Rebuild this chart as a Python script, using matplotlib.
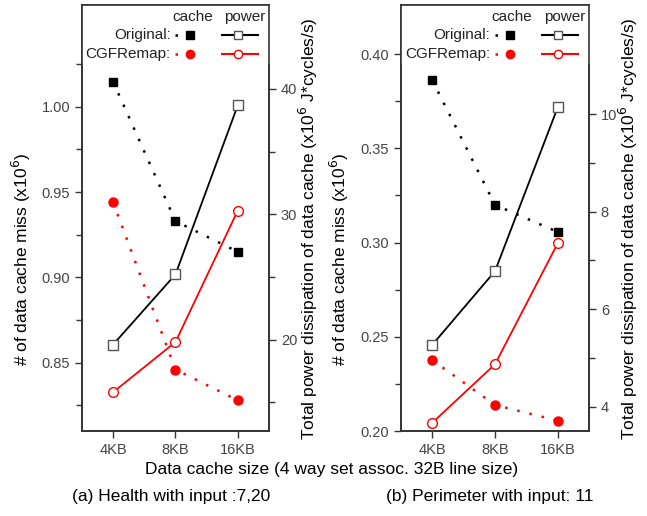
import matplotlib
matplotlib.use("Agg")
import matplotlib.pyplot as plt
from matplotlib.ticker import FixedLocator

plt.rcParams['font.family'] = ['Liberation Sans', 'DejaVu Sans']

sizes = ['4KB', '8KB', '16KB']

# (a) Health
health_orig_cache = [1.0146, 0.933, 0.915]
health_remap_cache = [0.944, 0.846, 0.828]
health_orig_power = [19.6, 25.2, 38.7]
health_remap_power = [15.8, 19.8, 30.3]

# (b) Perimeter
perim_orig_cache = [0.386, 0.320, 0.3056]
perim_remap_cache = [0.2376, 0.2138, 0.2055]
perim_orig_power = [5.27, 6.78, 10.14]
perim_remap_power = [3.67, 4.87, 7.35]

RED = '#ff0000'
SPINE = '#333333'
TICKC = '#444444'
dotted = (0, (1, 4))

cache_label = '# of data cache miss (x10$^6$)'
power_label = 'Total power dissipation of data cache (x10$^6$ J*cycles/s)'


def style_axis(ax):
    for s in ax.spines.values():
        s.set_color(SPINE)
        s.set_linewidth(1.2)
    ax.tick_params(which='both', direction='out', colors=SPINE,
                   labelcolor=TICKC, labelsize=10.5, width=1.0)
    ax.tick_params(which='major', length=5)
    ax.tick_params(which='minor', length=4)


def draw_panel(rect, orig_cache, remap_cache, orig_power, remap_power,
               ylim_c, ylim_p, cmajor, cminor, pmajor, pminor, title, title_x,
               lab_left_x, lab_right_x):
    ax = fig.add_axes(rect)
    ax2 = ax.twinx()
    x = range(len(sizes))

    ax.plot(x, orig_cache, color='black', ls=dotted, lw=1.8, marker='s', ms=6,
            mfc='black', mec='black', zorder=3)
    ax.plot(x, remap_cache, color=RED, ls=dotted, lw=1.8, marker='o', ms=6.5,
            mfc=RED, mec=RED, zorder=3)
    ax2.plot(x, orig_power, color='black', lw=1.3, marker='s', ms=6.5,
             mfc='white', mec='#555555', mew=1.0)
    ax2.plot(x, remap_power, color=RED, lw=1.3, marker='o', ms=7,
             mfc='white', mec=RED, mew=1.0)

    ax.set_xlim(-0.5, 2.5)
    ax.set_xticks(list(x))
    ax.set_xticklabels(sizes)
    ax.set_ylim(*ylim_c)
    ax2.set_ylim(*ylim_p)
    ax.yaxis.set_major_locator(FixedLocator(cmajor))
    ax.yaxis.set_minor_locator(FixedLocator(cminor))
    ax.set_yticklabels(['%.2f' % v for v in cmajor])
    ax2.yaxis.set_major_locator(FixedLocator(pmajor))
    ax2.yaxis.set_minor_locator(FixedLocator(pminor))
    style_axis(ax)
    style_axis(ax2)

    fig.text(lab_left_x, 0.497, cache_label, rotation=90, ha='center', va='center',
             fontsize=12.5, color='black')
    fig.text(lab_right_x, 0.556, power_label, rotation=90, ha='center', va='center',
             fontsize=12.5, color='black')

    # legend box drawn at the top of the frame
    tr = ax.transAxes
    ax.plot([0, 1], [0.864, 0.864], transform=tr, color=SPINE, lw=1.2, clip_on=False)
    ax.fill_between([0, 1], 0.864, 1, transform=tr, color='white', zorder=4)
    ax.text(0.59, 0.972, 'cache', transform=tr, ha='center', va='center', fontsize=11,
            color='#222222', zorder=5)
    ax.text(0.87, 0.972, 'power', transform=tr, ha='center', va='center', fontsize=11,
            color='#222222', zorder=5)
    rows = [(0.930, 'Original:', 'black', 's', 'black', 'black', '#555555'),
            (0.886, 'CGFRemap:', RED, 'o', RED, RED, RED)]
    for yy, lab, c, m, mfc, mec, mec2 in rows:
        ax.text(0.475, yy, lab, transform=tr, ha='right', va='center', fontsize=11,
                color='#222222', zorder=5)
        ax.plot([0.50, 0.615], [yy, yy], transform=tr, color=c, ls=dotted, lw=1.8,
                zorder=5, clip_on=False)
        ax.plot([0.578], [yy], transform=tr, marker=m, ms=6, mfc=mfc, mec=mec,
                ls='none', zorder=6, clip_on=False)
        ax.plot([0.75, 0.94], [yy, yy], transform=tr, color=c, lw=1.5,
                zorder=5, clip_on=False)
        ax.plot([0.834], [yy], transform=tr, marker=m, ms=6, mfc='white', mec=mec2,
                ls='none', zorder=6, clip_on=False)

    fig.text(title_x, 0.038, title, ha='center', va='center', fontsize=12.5)
    return ax, ax2


fig = plt.figure(figsize=(6.47, 5.16), dpi=100)

draw_panel([0.1267, 0.1647, 0.289, 0.8255],
           health_orig_cache, health_remap_cache, health_orig_power, health_remap_power,
           (0.81, 1.0596), (12.7, 46.7),
           [0.85, 0.90, 0.95, 1.00], [0.825, 0.875, 0.925, 0.975, 1.025],
           [20, 30, 40], [15, 25, 35],
           '(a) Health with input :7,20', 0.264, 0.0325, 0.476)

draw_panel([0.6198, 0.1647, 0.2906, 0.8255],
           perim_orig_cache, perim_remap_cache, perim_orig_power, perim_remap_power,
           (0.20, 0.426), (3.5, 12.24),
           [0.20, 0.25, 0.30, 0.35, 0.40], [0.225, 0.275, 0.325, 0.375],
           [4, 6, 8, 10], [5, 7, 9],
           '(b) Perimeter with input: 11', 0.757, 0.524, 0.9706)

fig.text(0.513, 0.091, 'Data cache size (4 way set assoc. 32B line size)',
         ha='center', va='center', fontsize=12.5)

fig.savefig('out.png', dpi=100)
